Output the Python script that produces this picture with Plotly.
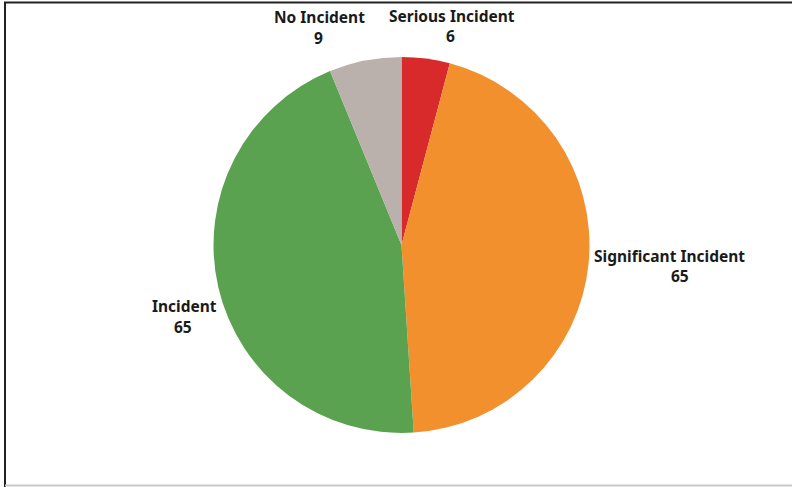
import plotly.graph_objects as go

# Incident counts by severity
categories = ["Serious Incident", "Significant Incident", "Incident", "No Incident"]
counts = [6, 65, 65, 9]
colors = ["#D8292B", "#F2902D", "#5AA250", "#BAB0AC"]

W, H = 792, 487

fig = go.Figure(
    go.Pie(
        labels=categories,
        values=counts,
        sort=False,
        direction="clockwise",
        rotation=0,
        textinfo="none",
        hoverinfo="label+value",
        marker=dict(colors=colors, line=dict(width=0)),
        domain=dict(x=[213 / W, 590 / W], y=[(H - 433) / H, (H - 57) / H]),
        showlegend=False,
    )
)

# label placement (pixel coordinates of name line and value line)
label_pos = {
    "Serious Incident": ((452, 16), (450, 36)),
    "Significant Incident": ((669, 256), (680, 276)),
    "Incident": ((184, 306), (183, 327)),
    "No Incident": ((319, 17), (318, 38)),
}

font = dict(family="Noto Sans, Open Sans, sans-serif", size=15.5, color="#1a1a1a")
annotations = []
for name, val in zip(categories, counts):
    (nx, ny), (vx, vy) = label_pos[name]
    annotations.append(dict(
        x=nx / W, y=1 - ny / H, xref="paper", yref="paper",
        text=f"<b>{name}</b>", showarrow=False, font=font,
        xanchor="center", yanchor="middle",
    ))
    annotations.append(dict(
        x=vx / W, y=1 - vy / H, xref="paper", yref="paper",
        text=f"<b>{val}</b>", showarrow=False, font=font,
        xanchor="center", yanchor="middle",
    ))

shapes = [
    # top frame line
    dict(type="line", xref="paper", yref="paper", x0=4 / W, x1=1, y0=1 - 2.5 / H, y1=1 - 2.5 / H,
         line=dict(color="#222222", width=2)),
    # left frame line
    dict(type="line", xref="paper", yref="paper", x0=5 / W, x1=5 / W, y0=0, y1=1 - 2 / H,
         line=dict(color="#222222", width=2)),
    # bottom frame line
    dict(type="line", xref="paper", yref="paper", x0=5 / W, x1=1, y0=1.5 / H, y1=1.5 / H,
         line=dict(color="#c8c8c8", width=2)),
]

fig.update_layout(
    width=W, height=H,
    margin=dict(l=0, r=0, t=0, b=0),
    paper_bgcolor="white", plot_bgcolor="white",
    annotations=annotations,
    shapes=shapes,
)

fig.write_html("out.html")
